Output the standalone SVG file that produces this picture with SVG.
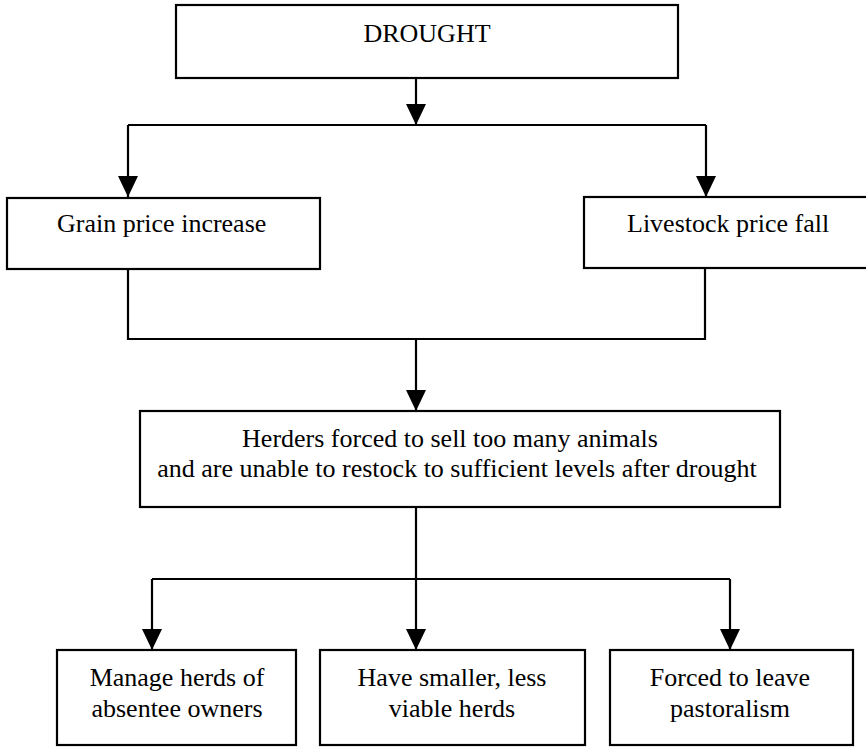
<svg xmlns="http://www.w3.org/2000/svg" width="866" height="747" viewBox="0 0 866 747">
<style>
.box{fill:#fff;stroke:#000;stroke-width:2.2}
.t{font-family:"Liberation Serif","Times New Roman",serif;font-size:26px;fill:#000}
.c{fill:none;stroke:#000;stroke-width:2.2}
</style>
<defs>
<marker id="ah" markerUnits="userSpaceOnUse" markerWidth="22" markerHeight="22" refX="21" refY="10" orient="auto" viewBox="0 0 22 20">
<path d="M0,0 L21,10 L0,20 z" fill="#000"/>
</marker>
</defs>
<rect width="866" height="747" fill="#fff"/>
<g id="connectors">
<path class="c" d="M416,78 V125" marker-end="url(#ah)"/>
<path class="c" d="M128,125 H706"/>
<path class="c" d="M128,125 V197" marker-end="url(#ah)"/>
<path class="c" d="M706,125 V197" marker-end="url(#ah)"/>
<path class="c" d="M128,269 V339 H705 V268"/>
<path class="c" d="M416,339 V411" marker-end="url(#ah)"/>
<path class="c" d="M416,507 V650" marker-end="url(#ah)"/>
<path class="c" d="M152,579 H730"/>
<path class="c" d="M152,579 V650" marker-end="url(#ah)"/>
<path class="c" d="M730,579 V650" marker-end="url(#ah)"/>
</g>
<g id="drought">
<rect class="box" x="176" y="5" width="502" height="73"/>
<text class="t" x="427" y="42" text-anchor="middle">DROUGHT</text>
</g>
<g id="grain">
<rect class="box" x="7" y="198" width="313" height="71"/>
<text class="t" x="57" y="232">Grain price increase</text>
</g>
<g id="livestock">
<rect class="box" x="584" y="197" width="290" height="71"/>
<text class="t" x="627" y="232">Livestock price fall</text>
</g>
<g id="herders">
<rect class="box" x="140" y="411" width="640" height="96"/>
<text class="t" x="450" y="447" text-anchor="middle">Herders forced to sell too many animals</text>
<text class="t" x="457" y="477" text-anchor="middle">and are unable to restock to sufficient levels after drought</text>
</g>
<g id="manage">
<rect class="box" x="57" y="650" width="239" height="95"/>
<text class="t" x="177" y="686" text-anchor="middle">Manage herds of</text>
<text class="t" x="177" y="717" text-anchor="middle">absentee owners</text>
</g>
<g id="smaller">
<rect class="box" x="320" y="650" width="265" height="95"/>
<text class="t" x="452" y="686" text-anchor="middle">Have smaller, less</text>
<text class="t" x="452" y="717" text-anchor="middle">viable herds</text>
</g>
<g id="leave">
<rect class="box" x="610" y="650" width="243" height="95"/>
<text class="t" x="730" y="686" text-anchor="middle">Forced to leave</text>
<text class="t" x="730" y="717" text-anchor="middle">pastoralism</text>
</g>
</svg>
